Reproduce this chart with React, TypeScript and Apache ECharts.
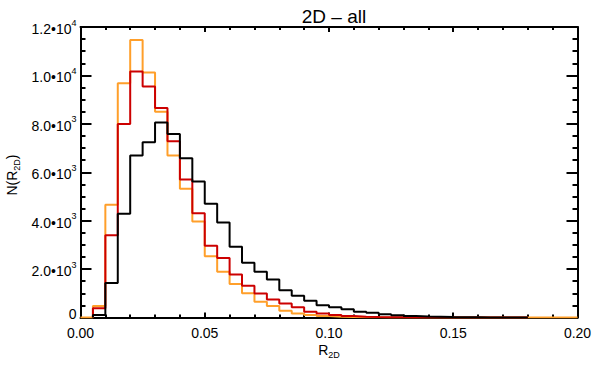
import React, { useEffect, useRef } from "react";
import * as echarts from "echarts";

// Histogram bin width (R_2D units)
const binWidth = 0.005;

// Orange histogram: bins starting at 0.000
const orangeStart = 0;
const orangeValues = [
  0, 470, 4660, 9680, 11460, 10120, 8500, 6690, 5320, 3970, 2530, 1890, 1380,
  1000, 650, 480, 280, 170, 100, 60, 35, 20, 10, 6, 4, 2, 1, 1, 0, 0, 0, 0, 0,
  0, 0, 0, 0, 0, 0, 0,
];

// Red histogram: bins starting at 0.005
const redStart = 0.005;
const redValues = [
  380, 3400, 7990, 10160, 9540, 8650, 7280, 5700, 4310, 2960, 2460, 1780, 1310,
  990, 740, 580, 420, 240, 170, 100, 60, 35, 20, 12, 8, 5, 3, 2, 1, 1, 0, 0, 0,
  0, 0,
];

// Black histogram: bins starting at 0.005
const blackStart = 0.005;
const blackValues = [
  100, 1430, 4290, 6690, 7240, 8060, 7580, 6580, 5620, 4700, 3920, 2920, 2260,
  1890, 1570, 1130, 900, 690, 510, 420, 340, 240, 200, 130, 90, 60, 40, 30, 20,
  12, 8, 5, 3, 2, 1,
];

// Axis tick labels
const xTickLabels = ["0.00", "0.05", "0.10", "0.15", "0.20"];
const yTickMantissa = ["0", "2.0•10", "4.0•10", "6.0•10", "8.0•10", "1.0•10", "1.2•10"];
const yTickExponent = ["", "3", "3", "3", "3", "4", "4"];

const titleText = "2D – all";
const FONT = "'Liberation Sans', Arial, Helvetica, sans-serif";

function toSteps(start: number, values: number[]): number[][] {
  const pts: number[][] = [[start, 0]];
  values.forEach((v, i) => pts.push([+(start + i * binWidth).toFixed(4), v]));
  pts.push([+(start + values.length * binWidth).toFixed(4), 0]);
  return pts;
}

export default function App() {
  const ref = useRef<HTMLDivElement>(null);

  useEffect(() => {
    if (!ref.current) return;
    const chart = echarts.init(ref.current, undefined, { renderer: "svg" });

    const axisLineStyle = { color: "#000", width: 2 };
    const xAxisBase = {
      type: "value" as const,
      min: 0,
      max: 0.2,
      interval: 0.05,
      splitLine: { show: false },
      axisLine: { show: true, onZero: false, lineStyle: axisLineStyle },
      axisTick: { show: true, inside: true, length: 5, lineStyle: { color: "#000", width: 2 } },
      minorTick: { show: true, splitNumber: 5, length: 3, lineStyle: { color: "#000", width: 2 } },
    };
    const yAxisBase = {
      type: "value" as const,
      min: 0,
      max: 12000,
      interval: 2000,
      splitLine: { show: false },
      axisLine: { show: true, onZero: false, lineStyle: axisLineStyle },
      axisTick: { show: true, inside: true, length: 11, lineStyle: { color: "#000", width: 2 } },
      minorTick: { show: true, splitNumber: 4, length: 5, lineStyle: { color: "#000", width: 2 } },
    };

    const seriesBase = {
      type: "line" as const,
      step: "end" as const,
      symbol: "none",
      xAxisIndex: 0,
      yAxisIndex: 0,
    };

    chart.setOption({
      animation: false,
      backgroundColor: "#fff",
      title: {
        text: titleText,
        left: 329,
        top: 2,
        textAlign: "center",
        textStyle: { fontFamily: FONT, fontSize: 19, fontWeight: "normal", color: "#000" },
      },
      grid: { left: 80.5, right: 22.5, top: 27, bottom: 49.5, containLabel: false },
      xAxis: [
        {
          ...xAxisBase,
          position: "bottom",
          axisLabel: {
            show: true,
            margin: 8,
            color: "#000",
            fontFamily: FONT,
            fontSize: 14,
            formatter: (v: number) => xTickLabels[Math.round(v / 0.05)] ?? "",
          },
        },
        { ...xAxisBase, position: "top", axisLabel: { show: false } },
      ],
      yAxis: [
        {
          ...yAxisBase,
          position: "left",
          axisLabel: {
            show: true,
            margin: 4,
            color: "#000",
            formatter: (v: number) => {
              const i = Math.round(v / 2000);
              if (i === 0) return "{z|" + yTickMantissa[0] + "}";
              return "{m|" + yTickMantissa[i] + "}{e|" + yTickExponent[i] + "}";
            },
            rich: {
              m: { fontFamily: FONT, fontSize: 14, color: "#000", lineHeight: 18, verticalAlign: "bottom" },
              e: { fontFamily: FONT, fontSize: 9, color: "#000", lineHeight: 10, verticalAlign: "top" },
              z: { fontFamily: FONT, fontSize: 14, color: "#000", lineHeight: 14, padding: [0, 0, 8, 0] },
            },
          },
        },
        { ...yAxisBase, position: "right", axisLabel: { show: false } },
      ],
      graphic: [
        {
          type: "text",
          x: 12,
          y: 175,
          rotation: Math.PI / 2,
          style: {
            text: "{a|N(R}{s|2D}{a|)}",
            align: "center",
            verticalAlign: "middle",
            fill: "#000",
            rich: {
              a: { fontFamily: FONT, fontSize: 14, fill: "#000", lineHeight: 18, verticalAlign: "middle" },
              s: { fontFamily: FONT, fontSize: 9, fill: "#000", lineHeight: 10, verticalAlign: "bottom" },
            },
          },
        },
        {
          type: "text",
          x: 329,
          y: 350,
          style: {
            text: "{a|R}{s|2D}",
            align: "center",
            verticalAlign: "middle",
            fill: "#000",
            rich: {
              a: { fontFamily: FONT, fontSize: 14, fill: "#000", lineHeight: 18, verticalAlign: "middle" },
              s: { fontFamily: FONT, fontSize: 9, fill: "#000", lineHeight: 10, verticalAlign: "bottom" },
            },
          },
        },
      ],
      series: [
        {
          ...seriesBase,
          name: "orange",
          data: toSteps(orangeStart, orangeValues),
          lineStyle: { color: "#FF9F2A", width: 2 },
          z: 3,
        },
        {
          ...seriesBase,
          name: "red",
          data: toSteps(redStart, redValues),
          lineStyle: { color: "#CC0000", width: 2 },
          z: 4,
        },
        {
          ...seriesBase,
          name: "black",
          data: toSteps(blackStart, blackValues),
          lineStyle: { color: "#000000", width: 2 },
          z: 5,
        },
      ],
    });

    return () => chart.dispose();
  }, []);

  return (
    <div
      ref={ref}
      style={{ position: "absolute", left: 0, top: 0, width: 600, height: 367, background: "#fff" }}
    />
  );
}
